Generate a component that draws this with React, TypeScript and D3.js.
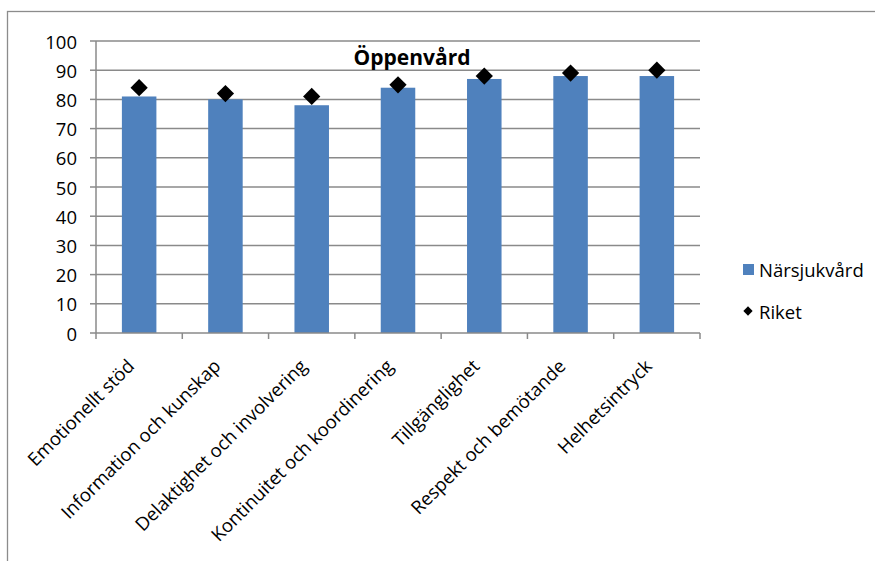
import React from "react";
import * as d3 from "d3";

const categories = [
  "Emotionellt stöd",
  "Information och kunskap",
  "Delaktighet och involvering",
  "Kontinuitet och koordinering",
  "Tillgänglighet",
  "Respekt och bemötande",
  "Helhetsintryck",
];
const narsjukvard = [81, 80, 78, 84, 87, 88, 88];
const riket = [84, 82, 81, 85, 88, 89, 90];
const yTicks = [0, 10, 20, 30, 40, 50, 60, 70, 80, 90, 100];
const title = "Öppenvård";
const seriesNames = ["Närsjukvård", "Riket"];

const W = 875;
const H = 561;
const FONT = "'Open Sans', sans-serif";
const BAR = "#4F81BD";
const GRID = "#8a8a8a";
const FS = 18.5;

export default function App() {
  const x = d3.scaleBand<string>().domain(categories).range([96, 700]).padding(0);
  const y = d3.scaleLinear().domain([0, 100]).range([333, 41]);
  const bw = x.bandwidth();
  const diamond = d3.symbol().type(d3.symbolDiamond2).size(190);
  const diamondSmall = d3.symbol().type(d3.symbolDiamond2).size(55);
  const boundaries = categories.map((c) => x(c) as number).concat([700]);

  return (
    <svg
      width={W}
      height={H}
      style={{ position: "absolute", left: 0, top: 0, display: "block", background: "#fff" }}
      fontFamily={FONT}
    >
      <rect x={7.5} y={11.5} width={1000} height={700} fill="none" stroke="#8c8c8c" strokeWidth={1.3} />
      {yTicks.map((t) => (
        <g key={t}>
          {t > 0 && <line x1={96} x2={700} y1={y(t)} y2={y(t)} stroke={GRID} strokeWidth={1.5} />}
          <line x1={90} x2={96} y1={y(t)} y2={y(t)} stroke={GRID} strokeWidth={1.5} />
          <text x={77} y={y(t)} textAnchor="end" dominantBaseline="central" fontSize={FS} fill="#000">
            {t}
          </text>
        </g>
      ))}
      {categories.map((c, i) => (
        <rect
          key={c}
          x={(x(c) as number) + bw * 0.3}
          width={bw * 0.4}
          y={y(narsjukvard[i])}
          height={y(0) - y(narsjukvard[i])}
          fill={BAR}
        />
      ))}
      <line x1={96} x2={96} y1={41} y2={333} stroke={GRID} strokeWidth={1.5} />
      <line x1={96} x2={700} y1={333} y2={333} stroke={GRID} strokeWidth={1.5} />
      {boundaries.map((b, i) => (
        <line key={i} x1={b} x2={b} y1={333} y2={339} stroke={GRID} strokeWidth={1.5} />
      ))}
      {categories.map((c, i) => (
        <path
          key={c}
          d={diamond() as string}
          transform={`translate(${(x(c) as number) + bw / 2},${y(riket[i])})`}
          fill="#000"
        />
      ))}
      {categories.map((c) => {
        const cx = (x(c) as number) + bw / 2;
        return (
          <text
            key={c}
            transform={`translate(${cx - 9},${362}) rotate(-45)`}
            textAnchor="end"
            dominantBaseline="central"
            fontSize={FS}
            fill="#000"
          >
            {c}
          </text>
        );
      })}
      <text x={412} y={57} textAnchor="middle" dominantBaseline="central" fontSize={21} fontWeight="bold" fill="#000">
        {title}
      </text>
      <rect x={743} y={264} width={11} height={11} fill={BAR} />
      <text x={759} y={269.5} dominantBaseline="central" fontSize={FS} fill="#000">
        {seriesNames[0]}
      </text>
      <path d={diamondSmall() as string} transform="translate(748,311)" fill="#000" />
      <text x={759} y={311} dominantBaseline="central" fontSize={FS} fill="#000">
        {seriesNames[1]}
      </text>
    </svg>
  );
}
